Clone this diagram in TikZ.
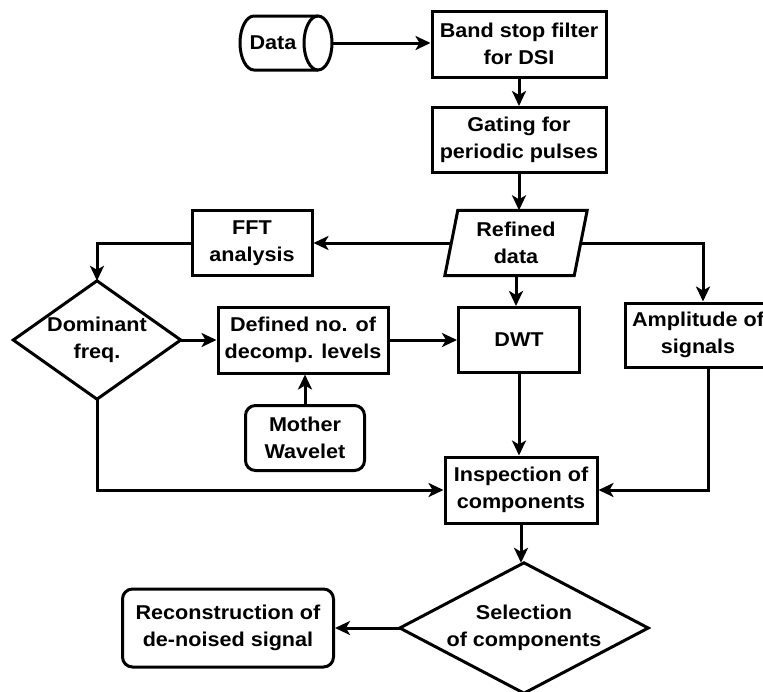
\documentclass[tikz,border=0pt]{standalone}
\usepackage{fontspec}
\newfontfamily\lab{Liberation Sans}[FakeStretch=1.08]
\usetikzlibrary{arrows.meta}
\begin{document}
\begin{tikzpicture}[x=1pt,y=-1pt,
  lw/.style={line width=3pt},
  box/.style={draw,lw,minimum width=#1,inner sep=0pt,align=center,font=\lab\bfseries\fontsize{20}{27.5}\selectfont},
  rbox/.style={box=#1,rounded corners=10pt},
  plain/.style={inner sep=0pt,align=center,font=\lab\bfseries\fontsize{20}{27.5}\selectfont},
  arr/.style={lw,-{Stealth[length=15pt,width=14pt,inset=4pt]}},
  ln/.style={lw}]
\useasboundingbox (0,0) rectangle (763,691);
% data cylinder
\node[plain,minimum width=92,minimum height=54] (data) at (286,43) {\hspace*{-26pt}Data};
\draw[lw] (318,16) -- (254,16) arc[start angle=90,end angle=270,x radius=14pt,y radius=27pt] -- (318,70);
\draw[lw] (318,43) ellipse[x radius=14pt,y radius=27pt];
% boxes
\node[box=174,minimum height=66] (band) at (519,44) {Band stop filter\\for DSI};
\node[box=174,minimum height=65] (gate) at (519,140) {Gating for\\periodic pulses};
\node[plain,minimum width=129,minimum height=65] (refined) at (516,243) {Refined\\data};
\draw[lw] ([xshift=-6.5]refined.south west) -- ([xshift=6.5]refined.north west) -- ([xshift=6.5]refined.north east) -- ([xshift=-6.5]refined.south east) -- cycle;
\node[box=120,minimum height=65] (fft) at (252,243) {FFT\\analysis};
\node[plain,minimum width=167,minimum height=118] (dom) at (97,340) {Dominant\\freq.};
\draw[lw] (dom.north) -- (dom.east) -- (dom.south) -- (dom.west) -- cycle;
\node[box=170,minimum height=66] (defined) at (303,340) {Defined no. of\\decomp. levels};
\node[box=121,minimum height=65] (dwt) at (519,340) {DWT};
\node[box=146,minimum height=64] (amp) at (698,335) {Amplitude of\\signals};
\node[rbox=119,minimum height=65] (mother) at (305,438) {Mother\\Wavelet};
\node[box=152,minimum height=66] (insp) at (521,490) {Inspection of\\components};
\node[plain,minimum width=248,minimum height=130] (sel) at (524,628) {Selection\\of components};
\draw[lw] (sel.north) -- (sel.east) -- (sel.south) -- (sel.west) -- cycle;
\node[rbox=211,minimum height=78] (recon) at (228,628) {Reconstruction of\\de-noised signal};
% connectors
\draw[arr] (data.east) -- (data.east -| band.west);
\draw[arr] (band.south) -- (band.south |- gate.north);
\draw[arr] (gate.south) -- (gate.south |- refined.north);
\draw[arr] (refined.west) -- (fft.east);
\draw[arr] (fft.west) -| (dom.north);
\draw[arr] (refined.south) -- (refined.south |- dwt.north);
\draw[arr] (refined.east) -| ([xshift=5]amp.north);
\draw[arr] (dom.east) -- (defined.west);
\draw[arr] (defined.east) -- (dwt.west);
\draw[arr] (mother.north) -- (mother.north |- defined.south);
\draw[arr] (dom.south) |- (insp.west);
\draw[arr] (dwt.south) -- (dwt.south |- insp.north);
\draw[arr] ([xshift=10]amp.south) |- (insp.east);
\draw[arr] (insp.south) -- (insp.south |- sel.north);
\draw[arr] (sel.west) -- (recon.east);
\end{tikzpicture}
\end{document}
